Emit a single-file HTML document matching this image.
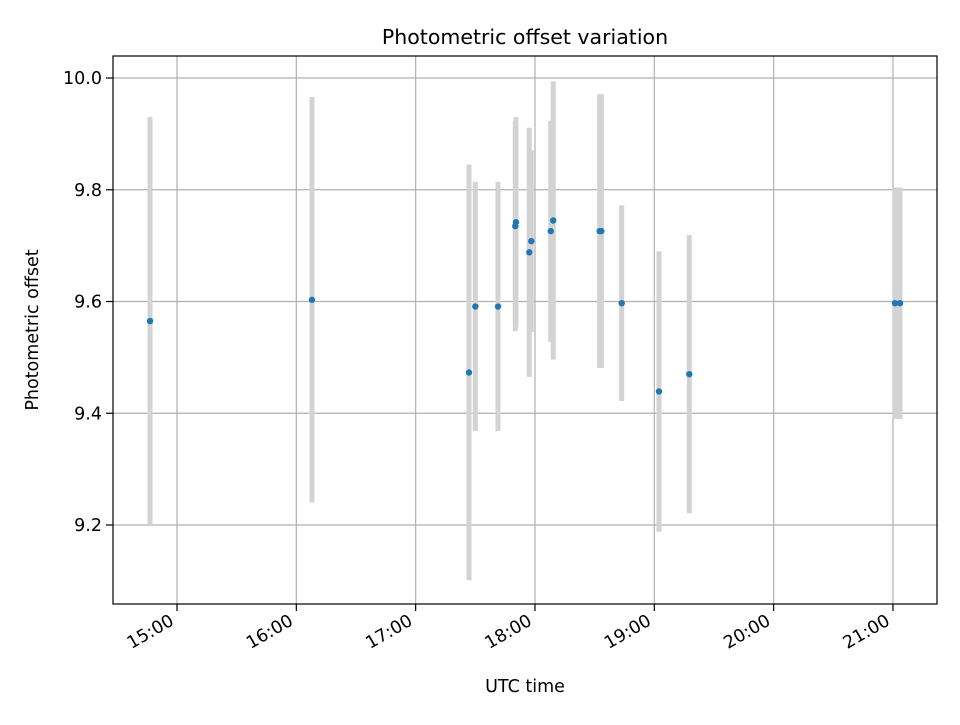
<!DOCTYPE html>
<html><head><meta charset="utf-8"><style>
body{margin:0;background:#fff}
text{font-family:"DejaVu Sans","Liberation Sans",sans-serif;fill:#000}
</style></head><body>
<svg id="chart" width="960" height="720" xmlns="http://www.w3.org/2000/svg">
<rect width="960" height="720" fill="#fff"/>
<g id="grid"></g>
<g id="bars"></g>
<g id="pts"></g>
<rect x="113" y="56" width="824" height="548" fill="none" stroke="#000" stroke-width="1.2"/>
<g id="ticks"></g>
<text x="525" y="44" text-anchor="middle" font-size="20.5">Photometric offset variation</text>
<text x="525" y="692" text-anchor="middle" font-size="17.5">UTC time</text>
<text transform="translate(38,330) rotate(-90)" text-anchor="middle" font-size="17.5">Photometric offset</text>
</svg>
<script>
const times=[14.774,16.131,17.447,17.500,17.690,17.841,17.835,17.952,17.969,18.132,18.153,18.542,18.556,18.727,19.039,19.293,21.017,21.059];
const values=[9.565,9.603,9.473,9.591,9.591,9.742,9.735,9.688,9.708,9.726,9.745,9.726,9.726,9.597,9.439,9.470,9.597,9.597];
const errors=[0.365,0.363,0.372,0.223,0.223,0.188,0.188,0.223,0.163,0.198,0.249,0.245,0.245,0.175,0.251,0.249,0.207,0.207];
const xTicks=[15,16,17,18,19,20,21];
const xTickLabels=["15:00","16:00","17:00","18:00","19:00","20:00","21:00"];
const yTicks=[9.2,9.4,9.6,9.8,10.0];
const yTickLabels=["9.2","9.4","9.6","9.8","10.0"];
const X0=113,X1=937,Y0=56,Y1=604,tMin=14.4637,tMax=21.369,vMin=9.0586,vMax=10.0394;
const sx=t=>X0+(t-tMin)/(tMax-tMin)*(X1-X0);
const sy=v=>Y1-(v-vMin)/(vMax-vMin)*(Y1-Y0);
const NS="http://www.w3.org/2000/svg";
function mk(tag,attrs,parent){const e=document.createElementNS(NS,tag);for(const k in attrs)e.setAttribute(k,attrs[k]);document.getElementById(parent).appendChild(e);return e;}
xTicks.forEach((t,i)=>{const x=sx(t);
 let g=mk('line',{x1:x,x2:x,y1:Y0,y2:Y1,stroke:'#b0b0b0','stroke-width':1.2},'grid');
 
 
 let tk=mk('line',{x1:x,x2:x,y1:Y1,y2:Y1+7,stroke:'#000','stroke-width':1.2},'ticks');
 
 
 let tl=mk('text',{transform:`translate(${x-2},${Y1+20}) rotate(-30)`,'text-anchor':'end','font-size':17.5},'ticks');
 tl.textContent=xTickLabels[i];
 
 
});
yTicks.forEach((v,i)=>{const y=sy(v);
 let g=mk('line',{x1:X0,x2:X1,y1:y,y2:y,stroke:'#b0b0b0','stroke-width':1.2},'grid');
 
 
 let tk=mk('line',{x1:X0-7,x2:X0,y1:y,y2:y,stroke:'#000','stroke-width':1.2},'ticks');
 
 
 let tl=mk('text',{x:X0-11,y:y+6,'text-anchor':'end','font-size':17.5},'ticks');
 tl.textContent=yTickLabels[i];
 
 
});
times.forEach((t,i)=>{const x=sx(t);
 let b=mk('line',{x1:x,x2:x,y1:sy(values[i]+errors[i]),y2:sy(values[i]-errors[i]),stroke:'#d3d3d3','stroke-width':5},'bars');
 
 
});
times.forEach((t,i)=>{
 let c=mk('circle',{cx:sx(t),cy:sy(values[i]),r:3.2,fill:'#1f77b4'},'pts');
 
 
});
</script>
</body></html>
